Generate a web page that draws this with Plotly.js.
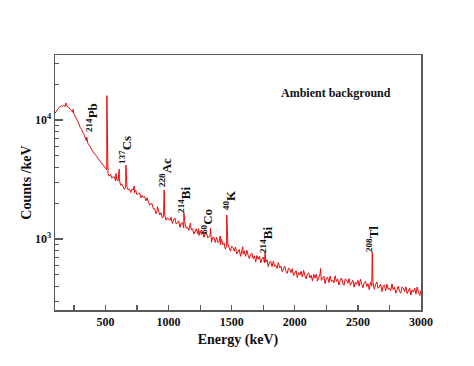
<!DOCTYPE html>
<html>
<head>
<meta charset="utf-8">
<script src="https://cdn.plot.ly/plotly-3.0.1.min.js"></script>
<style>html,body{margin:0;padding:0;background:#fff;}#chart{width:474px;height:366px;}</style>
</head>
<body>
<div id="chart"></div>
<script>
// Spectrum: counts per keV on a 10 keV grid starting at 100 keV
const gridStart = 100;
const gridStep = 10;
const counts = [
// 100-510
11400,11850,12350,12650,12950,13150,13050,13350,12950,13500,
12850,12750,12250,12050,11600,11250,10750,10350,9650,9250,
8650,8350,7850,7550,7050,6650,6380,6150,5820,5680,
5420,5280,5050,4950,4730,4640,4440,4360,4170,4090,
3930,3800,
// 520-700
3520,3370,3510,3250,3330,3330,3070,3180,3080,3140,2830,2880,2730,2610,2730,2740,2580,2630,2460,
// 710-1000
2630,2580,2450,2560,2350,2410,2440,2220,2320,2230,2280,2090,2220,2040,1920,1990,1960,1790,1800,1630,
1740,1690,1590,1660,1500,1550,1570,1440,1510,1460,
// 1010-1500
1430,1520,1350,1450,1500,1340,1360,1420,1250,1360,1370,1240,1360,1230,1250,1180,1310,1190,1220,1100,
1180,1220,1110,1070,1170,1090,1160,1030,1110,1140,1020,1040,1080,940,1030,1030,935,1030,935,950,
895,995,895,920,820,880,905,825,790,870,
// 1510-2000
850,790,855,750,790,815,715,780,745,795,715,805,730,685,745,760,685,720,640,725,
675,715,630,685,705,630,640,670,585,640,645,585,650,590,600,565,635,572,593,530,
571,590,535,514,568,559,519,563,493,523,
// 2010-3000
541,474,521,498,535,480,544,494,463,508,520,470,496,443,505,470,506,442,486,508,
449,461,488,421,470,477,430,488,440,452,428,490,439,460,410,448,470,424,409,461,
454,423,464,407,435,450,394,435,417,448,401,459,415,389,430,441,398,421,375,432,
401,432,378,416,435,385,396,418,361,403,409,368,417,377,387,367,419,375,392,350,
383,401,362,350,394,388,361,397,348,373,386,338,373,358,386,345,395,357,335,370
];

// Gamma lines (energy keV, peak tip counts/keV)
const peakEnergy = [187, 243, 352, 511, 583, 609, 662, 727, 911, 965, 1121, 1173, 1238, 1332, 1409, 1461, 1588, 1765, 2204, 2614];
const peakCounts = [13900, 12300, 7150, 16000, 3550, 3850, 4180, 2780, 1870, 2580, 1660, 1360, 1220, 1230, 1060, 1590, 860, 790, 565, 780];

// Labels
const labelText = ['<sup>214</sup>Pb', '<sup>137</sup>Cs', '<sup>228</sup>Ac', '<sup>214</sup>Bi', '<sup>60</sup>Co', '<sup>40</sup>K', '<sup>214</sup>Bi', '<sup>208</sup>Tl'];
const labelEnergy = [393, 655, 972, 1122, 1304, 1479, 1772, 2612];
const labelLog = [4.025, 3.748, 3.555, 3.328, 3.151, 3.328, 2.992, 3.0];

const xTickVals = [500, 1000, 1500, 2000, 2500, 3000];
const xMinorVals = [250, 750, 1250, 1750, 2250, 2750];
const yTickVals = [1000, 10000];
const yTickText = ['10<sup>3</sup>', '10<sup>4</sup>'];
const yMinorVals = [300, 400, 500, 600, 700, 800, 900, 2000, 3000, 4000, 5000, 6000, 7000, 8000, 9000, 20000, 30000];

// merge grid and peaks
const pts = counts.map((c, i) => [gridStart + gridStep * i, c]);
peakEnergy.forEach((e, i) => pts.push([e, peakCounts[i]]));
pts.sort((a, b) => a[0] - b[0]);
const xs = pts.map(p => p[0]);
const ys = pts.map(p => p[1]);

const F = 'Liberation Serif, Times New Roman, serif';
const axisCol = '#5a5a5a';

const trace = {
  x: xs, y: ys, type: 'scatter', mode: 'lines',
  line: {color: 'rgb(228,10,10)', width: 1},
  hoverinfo: 'skip'
};

const annotations = labelText.map((t, i) => ({
  x: labelEnergy[i], y: labelLog[i], xref: 'x', yref: 'y',
  text: t, showarrow: false, textangle: -90,
  font: {family: F, size: 13, weight: 'bold', color: '#111'}
}));
annotations.push({
  x: 2327, y: 4.227, xref: 'x', yref: 'y', text: 'Ambient background', showarrow: false,
  font: {family: F, size: 12, weight: 'bold', color: '#111'}
});

const layout = {
  width: 474, height: 366,
  margin: {l: 55, r: 53, t: 55, b: 56, pad: 0},
  paper_bgcolor: '#fff', plot_bgcolor: '#fff',
  showlegend: false,
  xaxis: {
    range: [100, 3000], tickmode: 'array', tickvals: xTickVals,
    ticks: 'inside', ticklen: 5, tickwidth: 1.2, tickcolor: axisCol,
    showline: true, linecolor: axisCol, linewidth: 1.5, mirror: true,
    showgrid: false, zeroline: false,
    tickfont: {family: F, size: 12, weight: 'bold', color: '#111'},
    minor: {tickmode: 'array', tickvals: xMinorVals, ticks: 'inside', ticklen: 5, tickwidth: 1.2, tickcolor: axisCol, showgrid: false},
    title: {text: 'Energy (keV)', font: {family: F, size: 14, weight: 'bold', color: '#111'}, standoff: 6}
  },
  yaxis: {
    type: 'log', range: [2.403, 4.546], tickmode: 'array', tickvals: yTickVals, ticktext: yTickText,
    ticks: 'inside', ticklen: 8, tickwidth: 1.2, tickcolor: axisCol,
    showline: true, linecolor: axisCol, linewidth: 1.5, mirror: true,
    showgrid: false, zeroline: false,
    tickfont: {family: F, size: 12, weight: 'bold', color: '#111'},
    minor: {tickmode: 'array', tickvals: yMinorVals, ticks: 'inside', ticklen: 4, tickwidth: 1.2, tickcolor: axisCol, showgrid: false},
    title: {text: 'Counts /keV', font: {family: F, size: 14, weight: 'bold', color: '#111'}, standoff: 0}
  },
  annotations: annotations
};

Plotly.newPlot('chart', [trace], layout, {staticPlot: true, displayModeBar: false});
</script>
</body>
</html>
